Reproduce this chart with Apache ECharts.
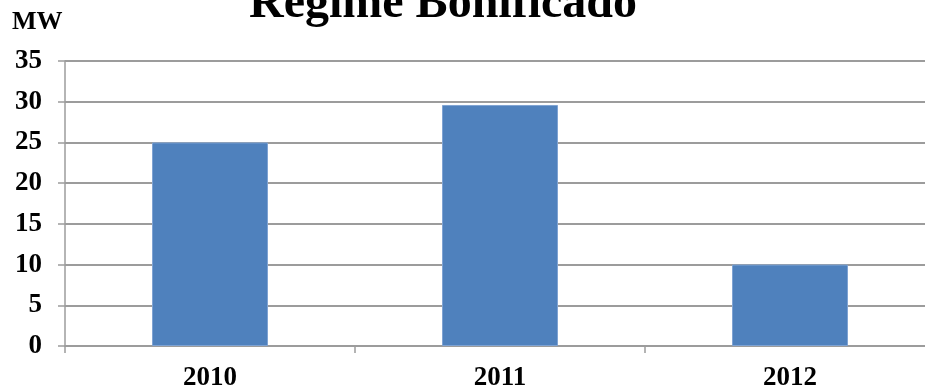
<!DOCTYPE html>
<html>
<head>
<meta charset="utf-8">
<script src="https://cdn.jsdelivr.net/npm/echarts@6/dist/echarts.min.js"></script>
<style>
  html, body { margin: 0; padding: 0; background: #ffffff; overflow: hidden; }
  /* the plot area runs past the right edge of the window */
  #chart { width: 945px; height: 392px; }
</style>
</head>
<body>
<div id="chart"></div>
<script>
// Installed capacity per year (MW)
const years = ['2010', '2011', '2012'];
const capacityMW = [25, 29.6, 10];
const yTicks = [0, 5, 10, 15, 20, 25, 30, 35];
const titleText = 'Regime Bonificado';
const unitText = 'MW';

const serif = "'Liberation Serif', 'Times New Roman', serif";
const gridColor = '#9c9c9c';

const chart = echarts.init(document.getElementById('chart'), null, { renderer: 'canvas' });

chart.setOption({
  animation: false,
  backgroundColor: '#ffffff',
  title: {
    text: titleText,
    left: 438,
    top: -24,
    textAlign: 'center',
    textStyle: { fontFamily: serif, fontWeight: 'bold', fontSize: 48, color: '#000000' }
  },
  graphic: [{
    type: 'text',
    left: 12,
    top: 9,
    style: { text: unitText, fontFamily: serif, fontWeight: 'bold', fontSize: 26, fill: '#000000' }
  }],
  grid: { left: 65, top: 61, width: 870, height: 286, containLabel: false },
  xAxis: {
    type: 'category',
    data: years,
    axisLine: { show: true, lineStyle: { color: gridColor, width: 1.5 } },
    axisTick: { show: true, length: 7, alignWithLabel: false, lineStyle: { color: gridColor, width: 1.5 } },
    axisLabel: { margin: 19, fontFamily: serif, fontWeight: 'bold', fontSize: 27, color: '#000000' },
    splitLine: { show: false }
  },
  yAxis: {
    type: 'value',
    min: yTicks[0],
    max: yTicks[yTicks.length - 1],
    interval: yTicks[1] - yTicks[0],
    axisLine: { show: true, lineStyle: { color: gridColor, width: 1.5 } },
    axisTick: { show: true, length: 7, lineStyle: { color: gridColor, width: 1.5 } },
    axisLabel: { margin: 23, fontFamily: serif, fontWeight: 'bold', fontSize: 27, color: '#000000' },
    splitLine: { show: true, lineStyle: { color: gridColor, width: 2 } }
  },
  series: [{
    type: 'bar',
    data: capacityMW,
    barWidth: 116,
    itemStyle: { color: '#4f81bd', borderColor: '#7fa3d3', borderWidth: 1 }
  }]
});
</script>
</body>
</html>
